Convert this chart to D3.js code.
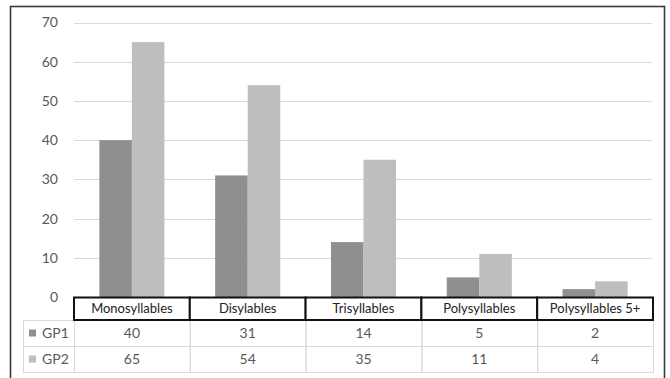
<!DOCTYPE html>
<html>
<head>
<meta charset="utf-8">
<script src="https://cdn.jsdelivr.net/npm/d3@7/dist/d3.min.js"></script>
<style>
  html, body { margin: 0; padding: 0; background: #fff; }
  svg { display: block; }
  text { font-family: Lato, "Open Sans", sans-serif; }
</style>
</head>
<body>
<svg id="chart" width="670" height="378"></svg>
<script>
const categories = ["Monosyllables", "Disylables", "Trisyllables", "Polysyllables", "Polysyllables 5+"];
const seriesNames = ["GP1", "GP2"];
const gp1 = [40, 31, 14, 5, 2];
const gp2 = [65, 54, 35, 11, 4];
const yTicks = [0, 10, 20, 30, 40, 50, 60, 70];
const colors = ["#8f8f8f", "#bebebe"];

const seriesValues = [gp1, gp2];

const svg = d3.select("#chart");

// outer frame
svg.append("rect")
  .attr("x", 10.5).attr("y", 6.5)
  .attr("width", 654).attr("height", 380)
  .attr("fill", "#fff").attr("stroke", "#3a3a3a").attr("stroke-width", 1.6);

const plotLeft = 74, plotRight = 653;
const y = d3.scaleLinear().domain([0, 70]).range([297, 22.5]);
const x = d3.scaleBand().domain(categories).range([plotLeft, plotRight]).paddingInner(0).paddingOuter(0);
const xs = d3.scaleBand().domain(seriesNames).range([0, x.bandwidth()]).paddingInner(0).paddingOuter(0.78);

// gridlines
svg.append("g").selectAll("line")
  .data(yTicks.filter(d => d > 0))
  .join("line")
  .attr("x1", plotLeft).attr("x2", plotRight - 1)
  .attr("y1", d => Math.round(y(d)) + 0.5).attr("y2", d => Math.round(y(d)) + 0.5)
  .attr("stroke", "#d9d9d9").attr("stroke-width", 1);

// y axis labels
const yAxis = d3.axisLeft(y).tickValues(yTicks).tickSize(0).tickPadding(0);
const gy = svg.append("g").attr("transform", "translate(58,0)").call(yAxis);
gy.select(".domain").remove();
gy.selectAll("text")
  .attr("fill", "#595959")
  .style("font-size", "14px")
  .style("font-family", "Lato, 'Open Sans', sans-serif");

// bars
const groups = svg.append("g").selectAll("g")
  .data(categories)
  .join("g")
  .attr("transform", d => `translate(${x(d)},0)`);

groups.selectAll("rect")
  .data((d, i) => seriesNames.map((s, j) => ({ s, v: seriesValues[j][i], j })))
  .join("rect")
  .attr("x", d => xs(d.s))
  .attr("width", xs.bandwidth())
  .attr("y", d => y(d.v))
  .attr("height", d => y(0) - y(d.v))
  .attr("fill", d => colors[d.j]);

// data table
const headTop = 297.5, headBottom = 320, rowH = 26;
const tableLeft = 23;

// light grid for the value rows
const tg = svg.append("g");
seriesNames.forEach((s, j) => {
  const top = headBottom + j * rowH;
  tg.append("rect")
    .attr("x", tableLeft + 0.5).attr("y", top + 0.5)
    .attr("width", plotLeft - tableLeft).attr("height", rowH)
    .attr("fill", "none").attr("stroke", "#d9d9d9");
  categories.forEach((c, i) => {
    tg.append("rect")
      .attr("x", x(c) + 0.5).attr("y", top + 0.5)
      .attr("width", x.bandwidth()).attr("height", rowH)
      .attr("fill", "none").attr("stroke", "#d9d9d9");
    tg.append("text")
      .attr("x", x(c) + x.bandwidth() / 2)
      .attr("y", top + rowH / 2 + 5)
      .attr("text-anchor", "middle")
      .attr("fill", "#595959")
      .style("font-size", "14px")
      .text(seriesValues[j][i]);
  });
  // legend key
  tg.append("rect")
    .attr("x", 29).attr("y", top + rowH / 2 - 3.5)
    .attr("width", 7).attr("height", 7)
    .attr("fill", colors[j]);
  tg.append("text")
    .attr("x", 42).attr("y", top + rowH / 2 + 5)
    .attr("fill", "#595959")
    .style("font-size", "14px")
    .text(s);
});

// category header row with heavy borders
const hg = svg.append("g");
categories.forEach(c => {
  hg.append("rect")
    .attr("x", x(c)).attr("y", headTop)
    .attr("width", x.bandwidth()).attr("height", headBottom - headTop)
    .attr("fill", "#fff").attr("stroke", "#111").attr("stroke-width", 2);
  hg.append("text")
    .attr("x", x(c) + x.bandwidth() / 2)
    .attr("y", (headTop + headBottom) / 2 + 4.5)
    .attr("text-anchor", "middle")
    .attr("fill", "#222")
    .style("font-size", "13px")
    .text(c);
});
</script>
</body>
</html>
